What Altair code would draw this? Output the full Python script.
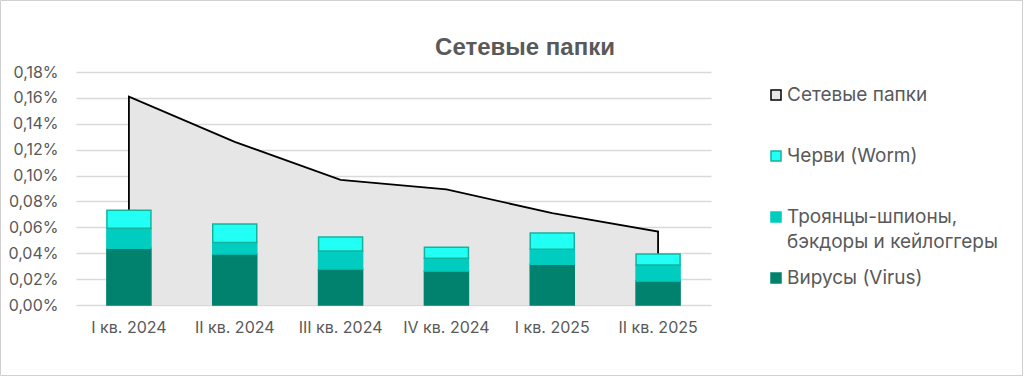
import altair as alt
import pandas as pd

quarters = ["I кв. 2024", "II кв. 2024", "III кв. 2024", "IV кв. 2024", "I кв. 2025", "II кв. 2025"]
network = [0.161, 0.126, 0.0966, 0.0894, 0.0709, 0.0567]
virus = [0.0438, 0.0394, 0.0278, 0.0263, 0.0314, 0.0185]
trojan = [0.0155, 0.0088, 0.0139, 0.0098, 0.0116, 0.0124]
worm = [0.0139, 0.0144, 0.0108, 0.0085, 0.0126, 0.0085]

series_names = ["Вирусы (Virus)", "Троянцы-шпионы, бэкдоры и кейлоггеры", "Черви (Worm)"]
legend_names = ["Сетевые папки", "Черви (Worm)", "Троянцы-шпионы,\nбэкдоры и кейлоггеры", "Вирусы (Virus)"]
chart_title = ["Сетевые папки"]
y_ticks = [0, 0.02, 0.04, 0.06, 0.08, 0.10, 0.12, 0.14, 0.16, 0.18]

C_VIRUS = "#00826E"
C_TROJAN = "#00CCBF"
C_WORM = "#22FFF4"
C_WORM_STROKE = "#14B39E"
C_AREA = "#E6E6E6"
TXT = "#595959"
FONT = "Inter"

area_df = pd.DataFrame({"q": quarters, "v": network})

line_rows = [{"q": quarters[0], "v": 0.0, "o": 0}]
for i, (q, v) in enumerate(zip(quarters, network)):
    line_rows.append({"q": q, "v": v, "o": i + 1})
line_rows.append({"q": quarters[-1], "v": 0.0, "o": len(quarters) + 1})
line_df = pd.DataFrame(line_rows)

bar_rows = []
for q, a, b, c in zip(quarters, virus, trojan, worm):
    for k, (name, val) in enumerate(zip(series_names, [a, b, c])):
        bar_rows.append({"q": q, "series": name, "v": val, "k": k})
bar_df = pd.DataFrame(bar_rows)

legend_df = pd.DataFrame({"name": legend_names})
title_df = pd.DataFrame({"t": chart_title})

x_axis = alt.Axis(title=None, labelAngle=0, ticks=False, domain=False, grid=False,
                  labelPadding=14, labelFontSize=16, labelColor=TXT, labelFont=FONT)
x_scale = alt.Scale(paddingInner=0.584, paddingOuter=0.292)
y_scale = alt.Scale(domain=[0, 0.18], nice=False, zero=True)
y_axis = alt.Axis(title=None, values=y_ticks, ticks=False, domain=False, grid=True, labelPadding=18,
                  labelFontSize=16, labelColor=TXT, labelFont=FONT, labelOverlap=False,
                  gridColor="#D9D9D9", gridWidth=1.5,
                  labelExpr="replace(format(datum.value, '.2f'), '.', ',') + '%'")


def xe():
    return alt.X("q:N", sort=quarters, scale=x_scale, axis=x_axis)


def ye(**kw):
    return alt.Y("v:Q", scale=y_scale, axis=y_axis, **kw)


frame = alt.Chart(title_df).mark_rect(fillOpacity=0, fill="white", stroke="#D0D0D0", strokeWidth=1).encode(
    x=alt.value(-75.5), x2=alt.value(1023 - 76 - 0.5),
    y=alt.value(-71.5), y2=alt.value(376 - 72 - 0.5))

title = alt.Chart(title_df).mark_text(font="Liberation Sans", fontSize=24, fontWeight="bold",
                                      color=TXT, align="center", baseline="alphabetic").encode(
    x=alt.value(449), y=alt.value(-17), text="t:N")

area = alt.Chart(area_df).mark_area(color=C_AREA).encode(x=xe(), y=ye())

line = alt.Chart(line_df).mark_line(color="#000000", strokeWidth=1.8).encode(
    x=xe(), y=ye(), order="o:Q")

bars = alt.Chart(bar_df).mark_bar(strokeWidth=1.5).encode(
    x=xe(),
    y=ye(stack="zero"),
    order=alt.Order("k:Q"),
    fill=alt.Fill("series:N", scale=alt.Scale(domain=series_names, range=[C_VIRUS, C_TROJAN, C_WORM]), legend=None),
    stroke=alt.Stroke("series:N", scale=alt.Scale(domain=series_names, range=[C_VIRUS, C_TROJAN, C_WORM_STROKE]), legend=None),
)

main = alt.layer(area, line, bars)

leg_y = alt.Y("name:N", sort=legend_names, axis=None,
              scale=alt.Scale(type="point", range=[23, 206], padding=0))
leg_sym = alt.Chart(legend_df).mark_square(size=100, strokeWidth=1.5, opacity=1).encode(
    x=alt.value(700), y=leg_y,
    fill=alt.Fill("name:N", scale=alt.Scale(domain=legend_names, range=[C_AREA, C_WORM, C_TROJAN, C_VIRUS]), legend=None),
    stroke=alt.Stroke("name:N", scale=alt.Scale(domain=legend_names, range=["#000000", C_WORM_STROKE, C_TROJAN, C_VIRUS]), legend=None),
)
leg_txt = alt.Chart(legend_df).mark_text(align="left", baseline="top", dy=-9, fontSize=19,
                                         font=FONT, color=TXT, lineBreak="\n", lineHeight=25).encode(
    x=alt.value(711), y=leg_y, text="name:N")
legend = alt.layer(leg_sym, leg_txt)

chart = alt.layer(frame, title, main, legend).resolve_scale(
    y="independent", fill="independent", stroke="independent"
).properties(
    width=635, height=233,
    background="white",
    padding={"left": 76, "top": 72, "right": 313, "bottom": 72},
    autosize=alt.AutoSizeParams(type="none"),
).configure_view(
    stroke="transparent", strokeWidth=0
).configure_axis(
    domain=False, domainOpacity=0, ticks=False
).configure_axisX(
    grid=False
)

chart.save("out.html", embed_options={"renderer": "svg", "actions": False})
